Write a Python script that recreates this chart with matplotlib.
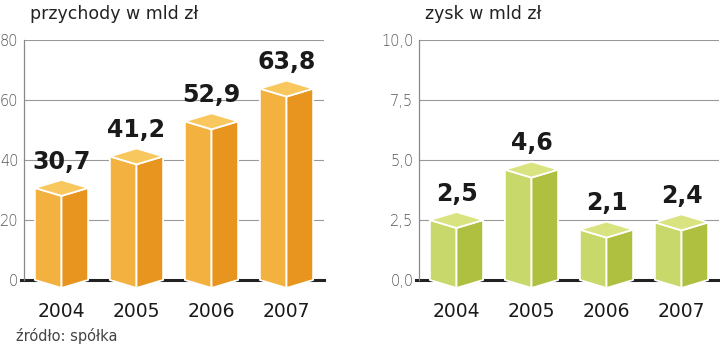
import numpy as np
import matplotlib
matplotlib.use('Agg')
import matplotlib.pyplot as plt
from matplotlib.patches import Polygon

# data
years = ['2004', '2005', '2006', '2007']
revenue = [30.7, 41.2, 52.9, 63.8]
profit = [2.5, 4.6, 2.1, 2.4]
revenue_labels = ['30,7', '41,2', '52,9', '63,8']
profit_labels = ['2,5', '4,6', '2,1', '2,4']
revenue_ticks = [0, 20, 40, 60, 80]
revenue_ticklabels = ['0', '20', '40', '60', '80']
profit_ticks = [0, 2.5, 5.0, 7.5, 10.0]
profit_ticklabels = ['0,0', '2,5', '5,0', '7,5', '10,0']

orange = ('#F3B23F', '#E8951F', '#F8C75E')  # front, side, top
green = ('#C9D86B', '#AFBF3F', '#D9E37F')

plt.rcParams['font.family'] = ['DejaVu Sans']

fig = plt.figure(figsize=(7.2, 3.47), dpi=100)
H = 347.0


def prism(ax, c, v, colors, w=0.355, depth_px=8):
    # depth in data units from the axes pixel scale
    ymin, ymax = ax.get_ylim()
    d = depth_px / 240.0 * (ymax - ymin)
    front = [(c - w, 0), (c, -d), (c, v - d), (c - w, v)]
    side = [(c, -d), (c + w, 0), (c + w, v), (c, v - d)]
    top = [(c - w, v), (c, v - d), (c + w, v), (c, v + d)]
    for pts, col in zip((front, side, top), colors):
        ax.add_patch(Polygon(pts, closed=True, facecolor=col, edgecolor='white',
                             linewidth=1.3, clip_on=False, zorder=3, joinstyle='round'))
    return d


def panel(rect, values, labels, ticks, ticklabels, colors, title, title_x):
    ax = fig.add_axes(rect)
    ax.set_xlim(-0.5, 3.5)
    ax.set_ylim(ticks[0], ticks[-1])
    ax.set_yticks(ticks)
    ax.set_yticklabels(ticklabels, color='#555555', fontsize=10.5, fontweight='light')
    ax.tick_params(axis='y', length=0, pad=4)
    ax.set_xticks(range(len(years)))
    ax.set_xticklabels(years, fontsize=13.5, color='#1a1a1a')
    ax.tick_params(axis='x', length=0, pad=16)
    for s in ('top', 'right', 'bottom'):
        ax.spines[s].set_visible(False)
    ax.spines['left'].set_color('#888888')
    ax.spines['left'].set_linewidth(0.9)
    ax.grid(axis='y', color='#999999', linewidth=0.8)
    ax.set_axisbelow(True)
    ax.axhline(ticks[0], xmin=-0.01, color='#222222', linewidth=2.2, zorder=2, clip_on=False)
    for i, (v, lab) in enumerate(zip(values, labels)):
        d = prism(ax, i, v, colors)
        ax.annotate(lab, (i, v + d), xytext=(0, 8), textcoords='offset points',
                    ha='center', va='baseline', fontsize=17, fontweight='bold',
                    color='#1a1a1a')
    fig.text(title_x, 1 - 19 / H, title, fontsize=12.5, color='#222222',
             va='baseline', ha='left')
    return ax


panel([24 / 720, 67 / H, 300 / 720, 240 / H], revenue, revenue_labels,
      revenue_ticks, revenue_ticklabels, orange, 'przychody w mld zł', 30 / 720)
panel([419 / 720, 67 / H, 300 / 720, 240 / H], profit, profit_labels,
      profit_ticks, profit_ticklabels, green, 'zysk w mld zł', 425 / 720)

fig.text(16 / 720, 1 - 341 / H, 'źródło: spółka', fontsize=10.5, color='#444444',
         va='baseline', ha='left')

fig.savefig('out.png', dpi=100)
